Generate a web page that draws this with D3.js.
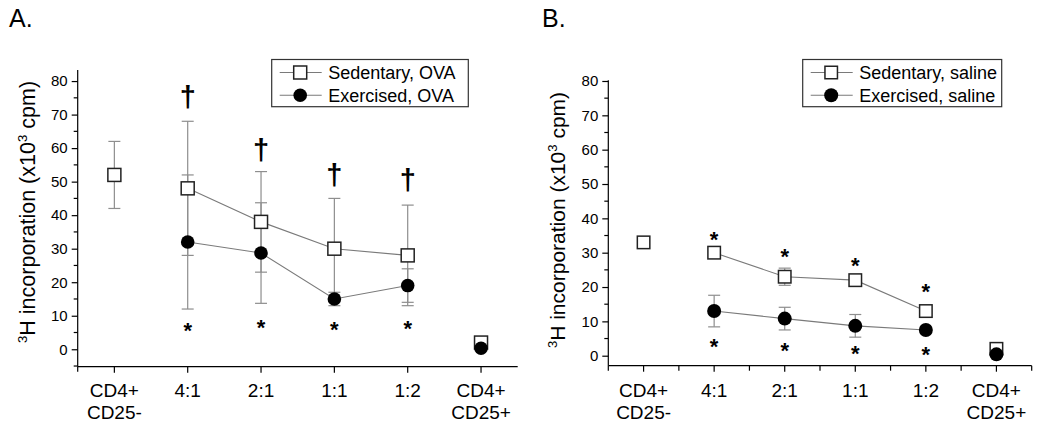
<!DOCTYPE html>
<html>
<head>
<meta charset="utf-8">
<script src="https://cdn.jsdelivr.net/npm/d3@7"></script>
<style>
  html, body { margin: 0; padding: 0; background: #fff; }
  svg { display: block; font-family: "Liberation Sans", Arial, Helvetica, sans-serif; }
</style>
</head>
<body>
<svg id="chart" width="1050" height="432"></svg>
<script>
// ---------- DATA ----------
const categories = ["CD4+\nCD25-", "4:1", "2:1", "1:1", "1:2", "CD4+\nCD25+"];
const yTicksA = [0, 10, 20, 30, 40, 50, 60, 70, 80];
const yTicksB = [0, 10, 20, 30, 40, 50, 60, 70, 80];

// Panel A (OVA)
const sedentaryOVA = [52, 48, 38, 30, 28, 2];
const sedentaryOVAErr = [10, 20, 15, 15, 15, 0];
const exercisedOVA = [null, 32, 28.7, 15, 19, 0.3];
const exercisedOVAErr = [null, 20, 15, 2, 5, 0];
const starsA = [null, 6.7, 7.8, 7, 7.3, null];
const daggersA = [null, 75, 59, 51.5, 50, null];

// Panel B (saline)
const sedentarySaline = [33, 30, 23, 22, 13, 2];
const sedentarySalineErr = [0, 0, 2.5, 0, 0, 0];
const exercisedSaline = [null, 13, 10.8, 8.7, 7.5, 0.4];
const exercisedSalineErr = [null, 4.6, 3.3, 3.3, 0, 0];
const starsUpB = [null, 35, 30, 27.4, 19.7, null];
const starsDownB = [null, 3.7, 2.6, 1.7, 1.4, null];

const svg = d3.select("#chart");

function drawPanel(cfg) {
  const g = svg.append("g");
  const x = d3.scaleBand().domain(categories).range(cfg.xRange);
  const cx = i => x(categories[i]) + x.bandwidth() / 2;
  const y = d3.scaleLinear().domain(cfg.yDomain).range(cfg.yRange);
  const x0 = cfg.xRange[0], yBase = cfg.yRange[0];

  // panel label
  g.append("text").attr("x", cfg.labelX).attr("y", 27)
    .attr("font-size", 25).attr("fill", "#000").text(cfg.label);

  // y axis
  const yAxis = d3.axisLeft(y).tickValues(cfg.yTicks).tickSize(6).tickPadding(4).tickFormat(d3.format("d"));
  const ya = g.append("g").attr("transform", `translate(${x0},0)`).call(yAxis);
  ya.select(".domain").attr("d", `M0,${cfg.yRange[1]}V${yBase}`).attr("stroke", "#000").attr("stroke-width", 1.2);
  ya.selectAll(".tick line").attr("stroke", "#000").attr("stroke-width", 1.2);
  ya.selectAll(".tick text").attr("font-size", 15).attr("fill", "#000")
    .attr("font-family", "Liberation Sans, Arial, sans-serif");
  // minor ticks
  const minor = d3.range(-5, 81, 10).filter(v => v >= cfg.yDomain[0] - 0.01 && v <= cfg.yDomain[1]);
  g.append("g").selectAll("line").data(minor).join("line")
    .attr("x1", x0 - 4).attr("x2", x0).attr("y1", d => y(d)).attr("y2", d => y(d))
    .attr("stroke", "#000").attr("stroke-width", 1.2);

  // x axis
  const xAxis = d3.axisBottom(x).tickSize(6).tickFormat("");
  const xa = g.append("g").attr("transform", `translate(0,${yBase})`).call(xAxis);
  xa.select(".domain").attr("d", `M${cfg.xRange[0]},0H${cfg.xRange[1]}`).attr("stroke", "#000").attr("stroke-width", 1.2);
  xa.selectAll(".tick line").attr("stroke", "#000").attr("stroke-width", 1.2);
  // edge / minor x ticks
  const edges = cfg.xMinor ? categories.map(c => x(c)).concat([cfg.xRange[1]]) : [cfg.xRange[0]];
  g.append("g").selectAll("line").data(edges).join("line")
    .attr("x1", d => d).attr("x2", d => d).attr("y1", yBase).attr("y2", yBase + 5)
    .attr("stroke", "#000").attr("stroke-width", 1.2);
  // x labels
  categories.forEach((c, i) => {
    const lines = c.split("\n");
    const t = g.append("text").attr("text-anchor", "middle").attr("font-size", 19).attr("fill", "#000");
    lines.forEach((ln, k) => {
      t.append("tspan").attr("x", cx(i)).attr("y", 397 + k * 22).text(ln);
    });
  });

  // y title
  const ts = cfg.titleSize;
  const yt = g.append("text").attr("transform", `translate(${cfg.titleX},${cfg.titleY}) rotate(-90)`)
    .attr("text-anchor", "middle").attr("font-size", ts).attr("fill", "#000");
  yt.append("tspan").attr("font-size", ts * 0.62).attr("dy", -ts * 0.38).text("3");
  yt.append("tspan").attr("dy", ts * 0.38).text("H incorporation (x10");
  yt.append("tspan").attr("font-size", ts * 0.62).attr("dy", -ts * 0.38).text("3");
  yt.append("tspan").attr("dy", ts * 0.38).text(" cpm)");

  const errColor = "#8e8e8e", lineColor = "#7a7a7a";
  function errorBars(vals, errs) {
    vals.forEach((v, i) => {
      if (v == null || !errs[i]) return;
      const xx = cx(i), yt1 = y(v + errs[i]), yb1 = y(v - errs[i]);
      g.append("line").attr("x1", xx).attr("x2", xx).attr("y1", yt1).attr("y2", yb1)
        .attr("stroke", errColor).attr("stroke-width", 1.2);
      [yt1, yb1].forEach(yy => g.append("line").attr("x1", xx - 6).attr("x2", xx + 6)
        .attr("y1", yy).attr("y2", yy).attr("stroke", errColor).attr("stroke-width", 1.2));
    });
  }
  errorBars(cfg.sed, cfg.sedErr);
  errorBars(cfg.ex, cfg.exErr);

  const line = d3.line().x(d => cx(d.i)).y(d => y(d.v));
  [cfg.sed, cfg.ex].forEach(vals => {
    const pts = vals.map((v, i) => ({ v, i })).filter(d => d.v != null && d.i >= 1 && d.i <= 4);
    g.append("path").attr("d", line(pts)).attr("fill", "none").attr("stroke", lineColor).attr("stroke-width", 1.1);
  });

  // markers
  const sq = cfg.sqSize;
  cfg.sed.forEach((v, i) => {
    if (v == null) return;
    g.append("rect").attr("x", cx(i) - sq / 2).attr("y", y(v) - sq / 2).attr("width", sq).attr("height", sq)
      .attr("fill", "#fff").attr("stroke", "#222").attr("stroke-width", 1.5);
  });
  cfg.ex.forEach((v, i) => {
    if (v == null) return;
    g.append("circle").attr("cx", cx(i)).attr("cy", y(v)).attr("r", cfg.circR).attr("fill", "#000");
  });

  // annotations
  function marks(arr, ch, size, off, weight) {
    arr.forEach((v, i) => {
      if (v == null) return;
      g.append("text").attr("x", cx(i)).attr("y", y(v) + size * off).attr("text-anchor", "middle")
        .attr("font-size", size).attr("font-weight", weight).attr("fill", "#000").text(ch);
    });
  }
  cfg.marks.forEach(m => marks(m.arr, m.ch, m.size, m.off, m.weight));

  // legend
  const L = cfg.legend;
  g.append("rect").attr("x", L.x).attr("y", L.y).attr("width", L.w).attr("height", L.h)
    .attr("fill", "#fff").attr("stroke", "#333").attr("stroke-width", 1.2);
  L.items.forEach((name, k) => {
    const ry = L.y + 13 + k * 22.7;
    g.append("line").attr("x1", L.x + 8).attr("x2", L.x + 50).attr("y1", ry).attr("y2", ry)
      .attr("stroke", lineColor).attr("stroke-width", 1.1);
    if (k === 0) {
      g.append("rect").attr("x", L.x + L.sym - sq / 2).attr("y", ry - sq / 2).attr("width", sq).attr("height", sq)
        .attr("fill", "#fff").attr("stroke", "#222").attr("stroke-width", 1.5);
    } else {
      g.append("circle").attr("cx", L.x + L.sym).attr("cy", ry).attr("r", cfg.circR).attr("fill", "#000");
    }
    g.append("text").attr("x", L.x + L.tx).attr("y", ry + 6.5).attr("font-size", 18).attr("fill", "#000").text(name);
  });
}

drawPanel({
  label: "A.", labelX: 9,
  xRange: [77.7, 517.7], yDomain: [-5.2, 83.3], yRange: [366.7, 70], yTicks: yTicksA, xMinor: false,
  titleX: 35, titleY: 212, titleSize: 21.5,
  sed: sedentaryOVA, sedErr: sedentaryOVAErr, ex: exercisedOVA, exErr: exercisedOVAErr,
  sqSize: 13, circR: 6.8,
  marks: [
    { arr: starsA, ch: "*", size: 22, off: 0.52, weight: "bold" },
    { arr: daggersA, ch: "\u2020", size: 29, off: 0.3, weight: "bold" }
  ],
  legend: { x: 271.7, y: 59.5, w: 196.6, h: 47.2, sym: 28.5, tx: 56.5, items: ["Sedentary, OVA", "Exercised, OVA"] }
});

drawPanel({
  label: "B.", labelX: 542,
  xRange: [608.3, 1031.7], yDomain: [-2.91, 80.2], yRange: [365.7, 80.3], yTicks: yTicksB, xMinor: true,
  titleX: 565, titleY: 220, titleSize: 21,
  sed: sedentarySaline, sedErr: sedentarySalineErr, ex: exercisedSaline, exErr: exercisedSalineErr,
  sqSize: 12.5, circR: 7,
  marks: [
    { arr: starsUpB, ch: "*", size: 22, off: 0.52, weight: "bold" },
    { arr: starsDownB, ch: "*", size: 22, off: 0.52, weight: "bold" }
  ],
  legend: { x: 802.7, y: 59.5, w: 199, h: 47.2, sym: 28.5, tx: 56.5, items: ["Sedentary, saline", "Exercised, saline"] }
});
</script>
</body>
</html>
